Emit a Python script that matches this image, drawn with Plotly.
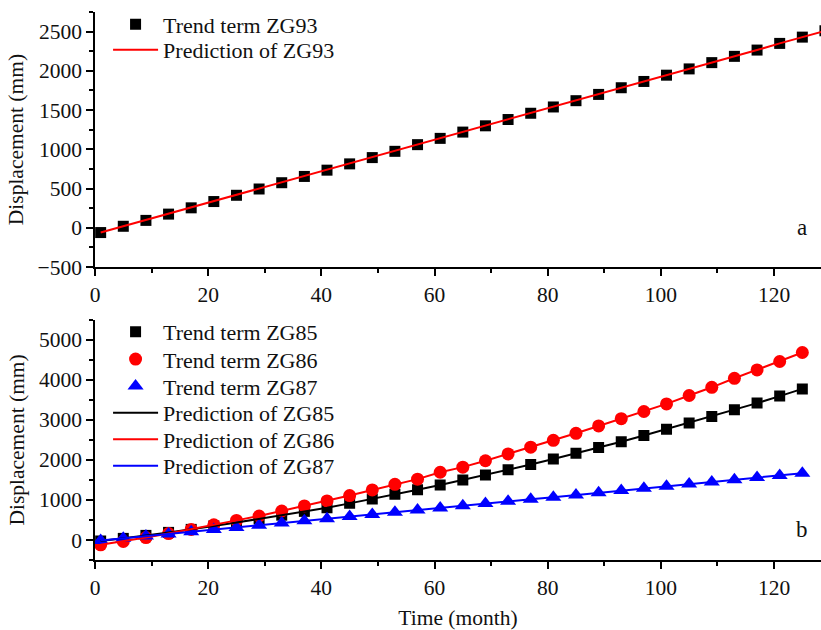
import plotly.graph_objects as go

# ---- data ----
months = [1, 5, 9, 13, 17, 21, 25, 29, 33, 37, 41, 45, 49, 53, 57, 61,
          65, 69, 73, 77, 81, 85, 89, 93, 97, 101, 105, 109, 113, 117, 121, 125]
months_a = months + [129]

zg93 = [-60, 20, 95, 175, 255, 335, 415, 495, 575, 655, 735, 815, 895, 975, 1060, 1140,
        1220, 1300, 1380, 1460, 1540, 1620, 1700, 1785, 1865, 1945, 2025, 2105, 2185, 2265,
        2350, 2430, 2510]

zg85 = [-25, 40, 115, 190, 265, 350, 435, 525, 620, 715, 805, 915, 1025, 1140, 1255, 1375,
        1500, 1625, 1755, 1885, 2025, 2165, 2310, 2455, 2610, 2770, 2925, 3085, 3255, 3420,
        3595, 3775]

zg86 = [-120, -35, 60, 160, 265, 380, 490, 600, 725, 850, 975, 1110, 1250, 1390, 1520, 1693,
        1820, 1980, 2150, 2320, 2490, 2665, 2850, 3030, 3210, 3400, 3610, 3815, 4040, 4250,
        4460, 4685]

zg87 = [-10, 45, 98, 152, 207, 260, 315, 370, 423, 478, 531, 585, 640, 694, 748, 800,
        856, 910, 965, 1018, 1070, 1126, 1180, 1235, 1290, 1340, 1397, 1450, 1505, 1560,
        1613, 1668]

FONT = "Liberation Serif"
TXT = "#111"

fig = go.Figure()

# ---- panel a ----
fig.add_trace(go.Scatter(x=months_a, y=zg93, mode="markers", name="Trend term ZG93",
                         marker=dict(symbol="square", size=11, color="black"),
                         xaxis="x", yaxis="y", legend="legend"))
fig.add_trace(go.Scatter(x=months_a, y=zg93, mode="lines", name="Prediction of ZG93",
                         line=dict(color="#ff0000", width=2),
                         xaxis="x", yaxis="y", legend="legend2"))

# ---- panel b ----
fig.add_trace(go.Scatter(x=months, y=zg85, mode="markers", name="Trend term ZG85",
                         marker=dict(symbol="square", size=11, color="black"),
                         xaxis="x2", yaxis="y2", legend="legend3"))
fig.add_trace(go.Scatter(x=months, y=zg86, mode="markers", name="Trend term ZG86",
                         marker=dict(symbol="circle", size=13, color="#ff0000"),
                         xaxis="x2", yaxis="y2", legend="legend4"))
fig.add_trace(go.Scatter(x=months, y=zg87, mode="markers", name="Trend term ZG87",
                         marker=dict(symbol="triangle-up", size=14, color="#0000ff"),
                         xaxis="x2", yaxis="y2", legend="legend5"))
fig.add_trace(go.Scatter(x=months, y=zg85, mode="lines", name="Prediction of ZG85",
                         line=dict(color="black", width=2),
                         xaxis="x2", yaxis="y2", legend="legend6"))
fig.add_trace(go.Scatter(x=months, y=zg86, mode="lines", name="Prediction of ZG86",
                         line=dict(color="#ff0000", width=2),
                         xaxis="x2", yaxis="y2", legend="legend7"))
fig.add_trace(go.Scatter(x=months, y=zg87, mode="lines", name="Prediction of ZG87",
                         line=dict(color="#0000ff", width=2),
                         xaxis="x2", yaxis="y2", legend="legend8"))

axis_common = dict(showline=True, linecolor="black", linewidth=1.5, ticks="outside",
                   ticklen=7, tickwidth=1.5, tickcolor="black", showgrid=False,
                   zeroline=False, tickfont=dict(family=FONT, size=21.5, color=TXT),
                   mirror=False)
minor_x = dict(ticks="outside", ticklen=4, tickwidth=1.5, dtick=10, tickcolor="black")

# plot area: x 95..821, y 12..562
def ly(pix):
    return (562 - pix) / 550.0

legend_centers = [24.5, 50, 333, 360.5, 387.5, 414.5, 441, 467.5]
legends = {}
for i, c in enumerate(legend_centers):
    key = "legend" if i == 0 else "legend%d" % (i + 1)
    legends[key] = dict(x=0.018, y=ly(c), xanchor="left", yanchor="middle",
                        bgcolor="rgba(0,0,0,0)", font=dict(family=FONT, size=22, color=TXT),
                        itemwidth=45)

fig.update_layout(
    width=821, height=630,
    margin=dict(l=95, r=0, t=12, b=68),
    paper_bgcolor="white", plot_bgcolor="white",
    font=dict(family=FONT, size=21.5, color=TXT),
    xaxis=dict(axis_common, domain=[0, 1], anchor="y", range=[0, 128.3], dtick=20,
               minor=minor_x),
    yaxis=dict(axis_common, domain=[0.5345, 1], anchor="x", range=[-500, 2750], dtick=500,
               minor=dict(ticks="outside", ticklen=4, tickwidth=1.5, dtick=250, tickcolor="black"),
               title=dict(text="Displacement (mm)", standoff=8,
                          font=dict(family=FONT, size=21.5, color=TXT))),
    xaxis2=dict(axis_common, domain=[0, 1], anchor="y2", range=[0, 128.3], dtick=20,
                minor=minor_x,
                title=dict(text="Time (month)", font=dict(family=FONT, size=21.5, color=TXT))),
    yaxis2=dict(axis_common, domain=[0, 0.4382], anchor="x2", range=[-500, 5500], dtick=1000,
                minor=dict(ticks="outside", ticklen=4, tickwidth=1.5, dtick=500, tickcolor="black"),
                title=dict(text="Displacement (mm)", standoff=8,
                           font=dict(family=FONT, size=21.5, color=TXT))),
    showlegend=True,
    annotations=[
        dict(text="a", x=125, y=0, xref="x", yref="y", showarrow=False,
             font=dict(family=FONT, size=23, color=TXT)),
        dict(text="b", x=125, y=260, xref="x2", yref="y2", showarrow=False,
             font=dict(family=FONT, size=23, color=TXT)),
    ],
    **legends,
)

fig.write_html("out.html")
